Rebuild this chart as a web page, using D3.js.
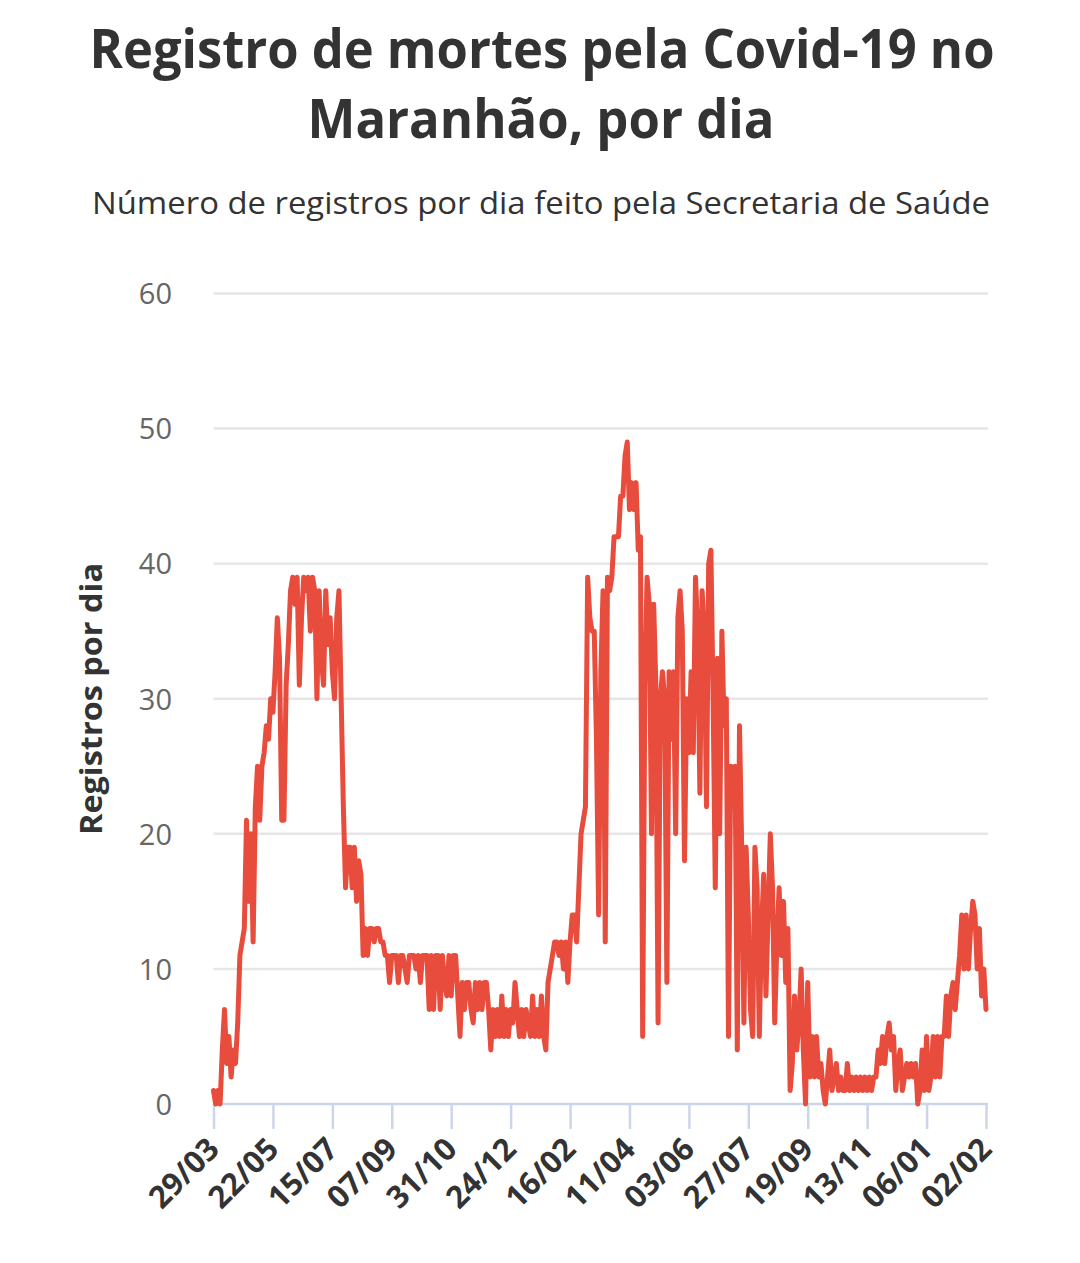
<!DOCTYPE html>
<html>
<head>
<meta charset="utf-8">
<script src="https://cdn.jsdelivr.net/npm/d3@7"></script>
<style>
  html, body { margin: 0; padding: 0; background: #fff; }
  svg { display: block; }
</style>
</head>
<body>
<svg id="chart" width="1080" height="1263"></svg>
<script>
// ---- Data (one per ~2 days) ----
const tickLabels = ["29/03","22/05","15/07","07/09","31/10","24/12","16/02","11/04","03/06","27/07","19/09","13/11","06/01","02/02"];
const pointsPerTick = 27;
const yTicks = [0, 10, 20, 30, 40, 50, 60];

const seg01 = [1,0,1,0,4,7,3,5,2,4,3,6,11,12,13,21,15,20,12,22,25,21,25,26,28,27,30];
const seg02 = [29,32,36,33,21,21,31,34,38,39,37,39,31,36,39,38,39,35,39,38,30,38,33,31,38,34,36];
const seg03 = [32,30,36,38,30,22,16,19,19,16,19,15,18,17,11,13,11,13,13,12,13,13,12,12,11,11,9];
const seg04 = [11,11,11,9,11,11,10,9,11,11,11,10,11,9,11,11,11,7,11,7,11,11,7,11,9,8,11];
const seg05 = [8,11,11,8,5,9,7,9,9,7,6,9,7,9,7,9,9,7,4,7,5,7,5,8,5,7,5];
const seg06 = [7,6,9,7,5,7,5,7,6,5,8,5,7,5,8,5,4,9,10,11,12,12,11,12,10,12,9];
const seg07 = [12,14,14,12,16,20,21,22,39,36,35,35,27,14,32,38,12,39,38,39,42,42,42,45,45,48,49];
const seg08 = [44,46,44,46,41,42,5,31,39,37,20,37,31,6,30,32,30,9,32,27,32,20,36,38,35,18,30];
const seg09 = [26,32,26,39,35,23,38,35,22,40,41,30,16,33,20,35,28,30,5,25,22,25,4,28,19,6,19];
const seg10 = [14,7,5,19,16,5,13,17,8,14,20,16,6,12,16,11,15,9,13,1,3,8,4,6,10,4,0];
const seg11 = [9,2,5,2,5,2,3,1,0,2,4,1,2,3,1,2,1,1,3,1,2,1,2,1,2,1,2];
const seg12 = [1,2,1,2,2,4,3,5,3,5,6,4,5,1,3,4,1,2,3,2,3,2,3,0,1,4,1];
const seg13 = [5,1,2,5,2,5,2,5,5,8,5,8,9,7,9,11,14,10,14,10,13,15,14,10,13,8,10,7];

const values = [].concat(seg01, seg02, seg03, seg04, seg05, seg06, seg07, seg08, seg09, seg10, seg11, seg12, seg13);

// ---- Layout ----
const svg = d3.select("#chart");
const W = 1080, H = 1263;
const plot = { left: 213.5, right: 986, top: 293.5, bottom: 1104 };
const lastIndex = pointsPerTick * (tickLabels.length - 1);

const x = d3.scaleLinear().domain([0, lastIndex]).range([plot.left, plot.right]);
const y = d3.scaleLinear().domain([0, 60]).range([plot.bottom, plot.top]);

svg.append("rect").attr("width", W).attr("height", H).attr("fill", "#ffffff");

// Title
const title = svg.append("g").attr("font-family", "'Open Sans', sans-serif").attr("fill", "#333333");
title.append("text")
  .attr("x", 542).attr("y", 68).attr("text-anchor", "middle")
  .attr("font-size", 54).attr("font-weight", 700)
  .attr("textLength", 905).attr("lengthAdjust", "spacingAndGlyphs")
  .text("Registro de mortes pela Covid-19 no");
title.append("text")
  .attr("x", 541).attr("y", 138).attr("text-anchor", "middle")
  .attr("font-size", 54).attr("font-weight", 700)
  .attr("textLength", 467).attr("lengthAdjust", "spacingAndGlyphs")
  .text("Maranhão, por dia");
title.append("text")
  .attr("x", 541).attr("y", 214).attr("text-anchor", "middle")
  .attr("font-size", 31).attr("font-weight", 400)
  .attr("textLength", 898).attr("lengthAdjust", "spacingAndGlyphs")
  .text("Número de registros por dia feito pela Secretaria de Saúde");

// Gridlines
svg.append("g").selectAll("line")
  .data(yTicks.filter(d => d > 0))
  .join("line")
  .attr("x1", plot.left).attr("x2", 988)
  .attr("y1", d => y(d)).attr("y2", d => y(d))
  .attr("stroke", "#e6e6e6").attr("stroke-width", 2.5);

// Y axis (labels only)
const yAxis = d3.axisLeft(y).tickValues(yTicks).tickSize(0).tickPadding(0).tickFormat(d3.format("d"));
const yg = svg.append("g").attr("transform", `translate(172,1)`).call(yAxis);
yg.select(".domain").remove();
yg.selectAll("text")
  .attr("font-family", "'Open Sans', sans-serif")
  .attr("font-size", 29).attr("fill", "#666666");

// Y axis title
svg.append("text")
  .attr("transform", "translate(102,699) rotate(-90)")
  .attr("text-anchor", "middle")
  .attr("font-family", "'Open Sans', sans-serif")
  .attr("font-size", 31).attr("font-weight", 700).attr("fill", "#333333")
  .attr("textLength", 272).attr("lengthAdjust", "spacingAndGlyphs")
  .text("Registros por dia");

// X axis
const tickIdx = tickLabels.map((_, i) => i * pointsPerTick);
const xAxis = d3.axisBottom(x).tickValues(tickIdx).tickSize(25).tickPadding(0)
  .tickFormat((d, i) => tickLabels[i]);
const xg = svg.append("g").attr("transform", `translate(0,${plot.bottom})`).call(xAxis);
xg.select(".domain").attr("stroke", "#ccd6eb").attr("stroke-width", 2.5)
  .attr("d", `M${plot.left},0H${988}`);
xg.selectAll(".tick line").attr("stroke", "#ccd6eb").attr("stroke-width", 2.5);
xg.selectAll(".tick text")
  .attr("font-family", "'Open Sans', sans-serif")
  .attr("font-size", 31).attr("font-weight", 700).attr("fill", "#333333")
  .attr("text-anchor", "end")
  .attr("y", 0).attr("dy", 0)
  .attr("transform", "translate(7,47) rotate(-45)");

// Line
const line = d3.line().x((d, i) => x(i)).y(d => y(d));
svg.append("path")
  .datum(values)
  .attr("d", line)
  .attr("fill", "none")
  .attr("stroke", "#e74c3c")
  .attr("stroke-width", 5)
  .attr("stroke-linejoin", "round")
  .attr("stroke-linecap", "round");
</script>
</body>
</html>
